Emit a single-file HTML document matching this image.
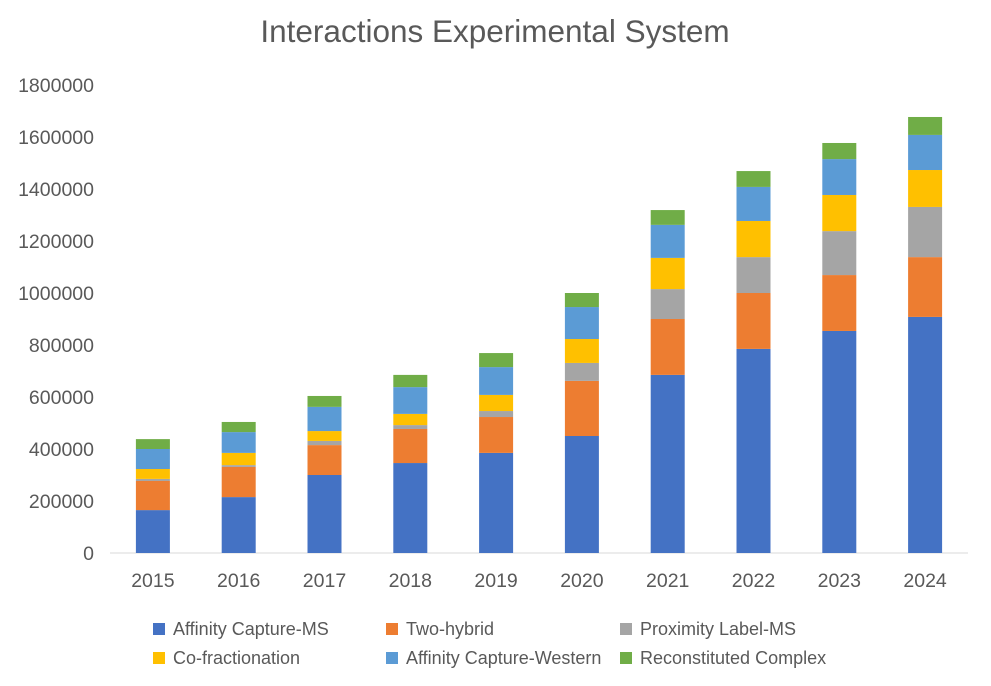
<!DOCTYPE html>
<html><head><meta charset="utf-8"><style>
body{margin:0;background:#fff;font-family:"Liberation Sans","Noto Sans CJK SC",sans-serif;}
svg text{font-family:"Liberation Sans","Noto Sans CJK SC",sans-serif;}
</style></head><body>
<svg id="chart" width="991" height="681">
<rect width="991" height="681" fill="#fff"/>
<text x="495" y="42" text-anchor="middle" font-size="31.5" fill="#595959">Interactions Experimental System</text>
<g id="axes"></g><g id="bars"></g><g id="legend"></g>
</svg>
<script>
const years=["2015","2016","2017","2018","2019","2020","2021","2022","2023","2024"];
const seriesNames=["Affinity Capture-MS","Two-hybrid","Proximity Label-MS","Co-fractionation","Affinity Capture-Western","Reconstituted Complex"];
const affinityMS=[165000,215000,300000,346000,385000,450000,685000,785000,854000,908000];
const twoHybrid=[112000,116000,115000,131000,138000,212000,215000,215000,215000,230000];
const proximityMS=[8000,7000,16000,15000,23000,69000,115000,138000,169000,193000];
const coFrac=[38000,47000,38000,43000,62000,92000,120000,139000,139000,142000];
const affinityWestern=[77000,80000,93000,103000,107000,123000,127000,131000,138000,135000];
const reconstituted=[38000,39000,42000,47000,54000,54000,57000,61000,62000,69000];
const yTicks=[0,200000,400000,600000,800000,1000000,1200000,1400000,1600000,1800000];
const colors=["#4472c4","#ed7d31","#a5a5a5","#ffc000","#5b9bd5","#70ad47"];
const series=[affinityMS,twoHybrid,proximityMS,coFrac,affinityWestern,reconstituted];
const NS="http://www.w3.org/2000/svg";
const x0=110,x1=968,y0=553,yTop=85,yMax=1800000;
const yS=v=>y0-(v/yMax)*(y0-yTop);
const band=(x1-x0)/years.length;
const xC=i=>x0+band*(i+0.5);
const bw=34;
function mk(t,a,p){const e=document.createElementNS(NS,t);for(const k in a)e.setAttribute(k,a[k]);p.appendChild(e);return e;}
const ax=document.getElementById('axes');
yTicks.forEach(v=>{const t=mk('text',{x:94,y:yS(v)+7,'text-anchor':'end','font-size':19.5,fill:'#595959'},ax);t.textContent=v;

});
const al=mk('line',{x1:x0,x2:x1,y1:y0,y2:y0,stroke:'#d9d9d9','stroke-width':1},ax);


years.forEach((y,i)=>{const t=mk('text',{x:xC(i),y:587,'text-anchor':'middle','font-size':19.5,fill:'#595959'},ax);t.textContent=y;

});
const bars=document.getElementById('bars');
years.forEach((y,i)=>{let acc=0;series.forEach((s,k)=>{const v=s[i];const r=mk('rect',{x:xC(i)-bw/2,y:yS(acc+v),width:bw,height:yS(acc)-yS(acc+v),fill:colors[k]},bars);

acc+=v;});});
const lg=document.getElementById('legend');
const lx=[153,386,620];
seriesNames.forEach((n,k)=>{const x=lx[k%3],y=k<3?629:658;
const g=mk('g',{},lg);


mk('rect',{x:x,y:y-6,width:12,height:12,fill:colors[k]},g);
const t=mk('text',{x:x+20,y:y+6,'font-size':18,fill:'#595959'},g);t.textContent=n;});
</script>
</body></html>
